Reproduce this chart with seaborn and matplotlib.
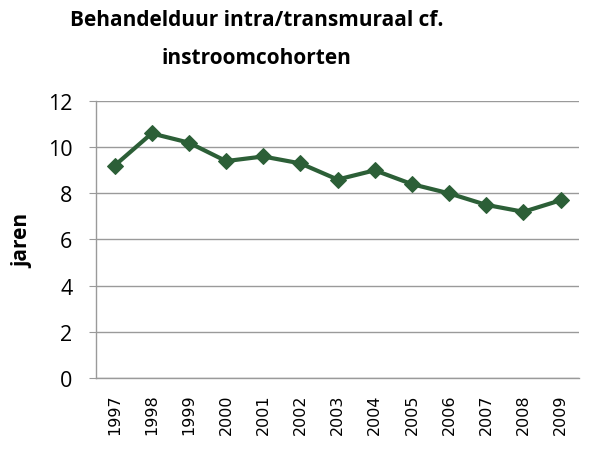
import pandas as pd
import matplotlib
matplotlib.use("Agg")
import matplotlib.pyplot as plt
import seaborn as sns

sns.set_style("white")
plt.rcParams["text.color"] = "black"
plt.rcParams["xtick.color"] = "black"
plt.rcParams["ytick.color"] = "black"
plt.rcParams["axes.labelcolor"] = "black"

# data
years = ["1997", "1998", "1999", "2000", "2001", "2002", "2003",
         "2004", "2005", "2006", "2007", "2008", "2009"]
duur = [9.2, 10.6, 10.2, 9.4, 9.6, 9.3, 8.6, 9.0, 8.4, 8.0, 7.5, 7.2, 7.7]

df = pd.DataFrame({"jaar": years, "jaren": duur})

green = "#2C5F37"
grey = "#9A9A9A"

fig = plt.figure(figsize=(6.11, 4.52), dpi=100)
ax = fig.add_axes([0.157, 0.162, 0.791, 0.612])

sns.lineplot(data=df, x="jaar", y="jaren", ax=ax, color=green,
             linewidth=3, marker="D", markersize=8.5,
             markeredgecolor=green, markerfacecolor=green)

ax.set_ylim(0, 12)
ax.set_yticks(range(0, 13, 2))
ax.set_xlim(-0.5, len(years) - 0.5)
ax.yaxis.grid(True, color=grey, linewidth=1)
ax.xaxis.grid(False)
ax.set_axisbelow(True)

for side in ["top", "right"]:
    ax.spines[side].set_visible(False)
for side in ["left", "bottom"]:
    ax.spines[side].set_color(grey)
    ax.spines[side].set_linewidth(1)

ax.tick_params(axis="y", left=True, length=5, color=grey, labelcolor="black",
               labelsize=15.5, pad=12)
ax.tick_params(axis="x", bottom=False, labelcolor="black", labelsize=11.5, pad=8)
for lab in ax.get_yticklabels():
    lab.set_fontfamily("Open Sans")
plt.setp(ax.get_xticklabels(), rotation=90, fontfamily="DejaVu Sans")

ax.set_xlabel("")
ax.set_ylabel("jaren", fontsize=15, fontweight="bold", fontfamily="Open Sans",
              labelpad=10)

fig.text(0.42, 0.955, "Behandelduur intra/transmuraal cf.", ha="center", va="center",
         fontsize=15, fontweight="bold", fontfamily="Open Sans")
fig.text(0.42, 0.87, "instroomcohorten", ha="center", va="center",
         fontsize=15, fontweight="bold", fontfamily="Open Sans")

fig.savefig("out.png", dpi=100)
